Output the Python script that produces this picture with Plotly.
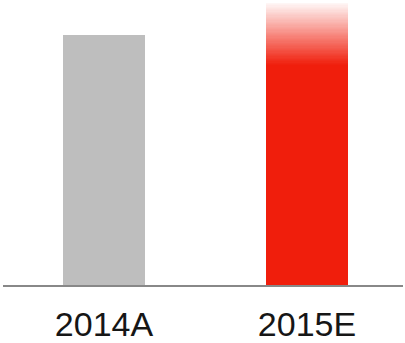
import plotly.graph_objects as go

# Data
categories = ["2014A", "2015E"]
actual_values = [100.0, None]      # 2014 actual
base_estimate = [None, 88.0]       # 2015 firm estimate (solid)
upside_estimate = [None, 112.8]    # 2015 upper end of the estimate (faded)

gray = "#BEBEBE"
red_rgb = (240, 30, 12)

fig = go.Figure()

fig.add_trace(go.Bar(
    x=categories, y=[actual_values[0], 0],
    marker=dict(color=gray, line=dict(width=0)),
    hoverinfo="skip", showlegend=False,
))
fig.add_trace(go.Bar(
    x=categories, y=[0, base_estimate[1]],
    marker=dict(color="rgb(%d,%d,%d)" % red_rgb, line=dict(width=0)),
    hoverinfo="skip", showlegend=False,
))

# Faded range between the firm estimate and the upside, drawn as thin stacked slices
n_steps = 50
span = upside_estimate[1] - base_estimate[1]
step = span / n_steps
for i in range(n_steps):
    frac = (i + 0.5) / n_steps
    alpha = 1.0 - 0.97 * frac
    fig.add_trace(go.Bar(
        x=categories, y=[0, step],
        marker=dict(color="rgba(%d,%d,%d,%.3f)" % (*red_rgb, alpha), line=dict(width=0)),
        hoverinfo="skip", showlegend=False,
    ))

fig.update_layout(
    width=405, height=343,
    margin=dict(l=3, r=2, t=0, b=58),
    paper_bgcolor="white", plot_bgcolor="white",
    barmode="stack", bargap=0.596,
    font=dict(family="Liberation Sans, Arial", size=34, color="#161616"),
    xaxis=dict(
        range=[-0.4975, 1.473],
        showline=True, linecolor="#888888", linewidth=2,
        showgrid=False, zeroline=False, ticks="",
        automargin=False,
        ticklabelstandoff=8,
        tickfont=dict(family="Liberation Sans, Arial", size=34, color="#161616"),
    ),
    yaxis=dict(range=[0, 114.0], visible=False, showgrid=False, zeroline=False),
)

fig.write_html("out.html")
